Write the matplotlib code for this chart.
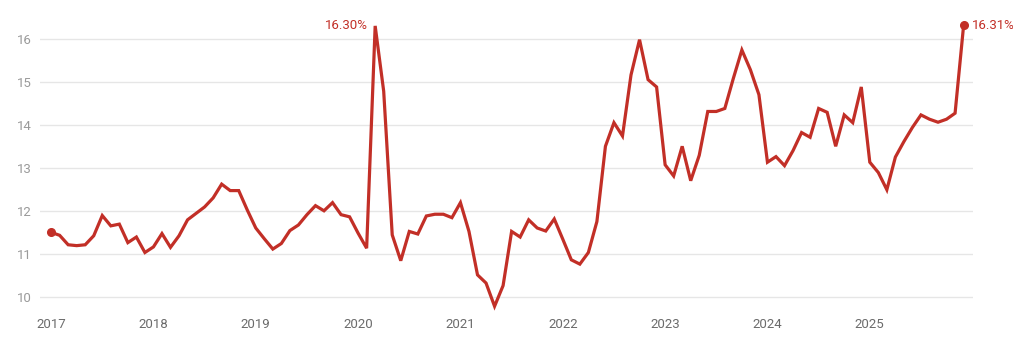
import matplotlib

matplotlib.use("Agg")
import matplotlib.pyplot as plt
import numpy as np

plt.rcParams["font.family"] = ["Roboto", "DejaVu Sans"]

# monthly values, Jan 2017 .. Dec 2025
values = [
    11.50, 11.43, 11.21, 11.19, 11.21, 11.42, 11.89, 11.65, 11.69, 11.26, 11.39, 11.03,
    11.16, 11.47, 11.15, 11.42, 11.79, 11.94, 12.09, 12.30, 12.62, 12.47, 12.47, 12.02,
    11.60, 11.35, 11.11, 11.24, 11.54, 11.67, 11.91, 12.12, 12.00, 12.19, 11.91, 11.86,
    11.48, 11.13, 16.30, 14.78, 11.44, 10.84, 11.52, 11.46, 11.88, 11.92, 11.92, 11.84,
    12.19, 11.52, 10.51, 10.32, 9.78, 10.26, 11.52, 11.39, 11.79, 11.60, 11.53, 11.81,
    11.34, 10.86, 10.76, 11.03, 11.75, 13.50, 14.05, 13.74, 15.16, 15.98, 15.05, 14.88,
    13.07, 12.81, 13.50, 12.70, 13.29, 14.31, 14.31, 14.38, 15.08, 15.74, 15.28, 14.70,
    13.13, 13.26, 13.05, 13.40, 13.82, 13.71, 14.38, 14.29, 13.50, 14.23, 14.05, 14.88,
    13.13, 12.89, 12.49, 13.25, 13.61, 13.94, 14.23, 14.13, 14.06, 14.13, 14.27, 16.31,
]
years = [2017, 2018, 2019, 2020, 2021, 2022, 2023, 2024, 2025]
yticks = [10, 11, 12, 13, 14, 15, 16]
peak_label = "16.30%"
last_label = "16.31%"

red = "#c22f27"
x = np.arange(len(values))

fig = plt.figure(figsize=(10.13, 3.44), dpi=100)
ax = fig.add_axes([0.0395, 0.0872, 0.921, 0.875])

ax.plot(x, values, color=red, lw=2.3, solid_joinstyle="miter", zorder=3)
ax.plot([x[0], x[-1]], [values[0], values[-1]], "o", color=red, ms=5.5, zorder=4)

peak = int(np.argmax(values[:60]))
ax.annotate(peak_label, (x[peak], values[peak]), xytext=(-5, 0),
            textcoords="offset points", ha="right", va="center",
            color=red, fontsize=9.5)
ax.annotate(last_label, (x[-1], values[-1]), xytext=(6, 0),
            textcoords="offset points", ha="left", va="center",
            color=red, fontsize=9.5, annotation_clip=False)

ax.set_xlim(-1.3, 108.1)
ax.set_ylim(9.6, 16.6)
ax.set_yticks(yticks)
ax.set_xticks([(y - 2017) * 12 for y in years])
ax.set_xticklabels([str(y) for y in years])
ax.grid(axis="y", color="#e6e6e6", lw=1)
ax.set_axisbelow(True)
for s in ax.spines.values():
    s.set_visible(False)
ax.tick_params(axis="both", length=0, labelsize=9.5)
ax.tick_params(axis="y", pad=6, labelcolor="#9a9a9a")
ax.tick_params(axis="x", pad=3, labelcolor="#6b6b6b")

fig.savefig("out.png", dpi=100)
